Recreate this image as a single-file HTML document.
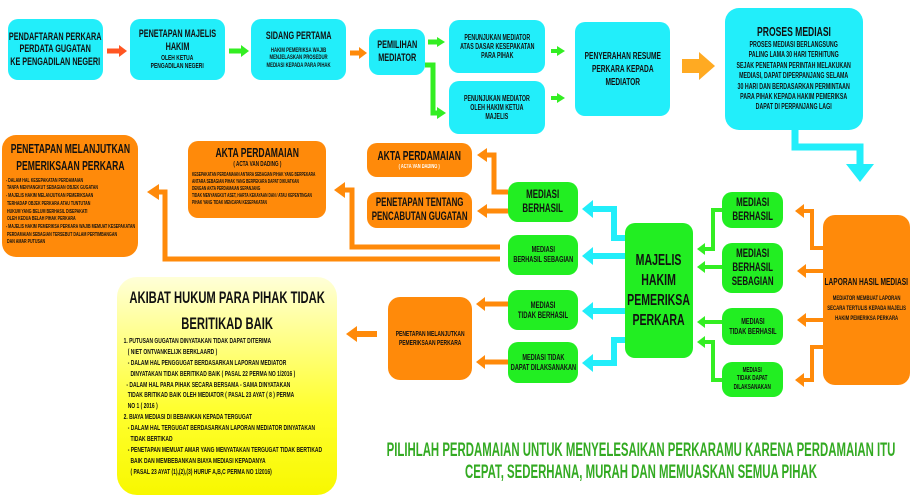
<!DOCTYPE html>
<html><head><meta charset="utf-8"><style>
body{margin:0;width:913px;height:498px;background:#fff;overflow:hidden;position:relative;font-family:"Liberation Sans",sans-serif;font-weight:bold;color:#111}
.b{position:absolute;box-sizing:border-box;border-radius:10px;display:flex;flex-direction:column;justify-content:center;align-items:center;text-align:center;line-height:1.15}
.b>div{white-space:nowrap;transform:scaleX(.66)}
.c{background:#22eefa}.g{background:#22ee22}.o{background:#ff8a0a}
.t{font-size:11px}.s{font-size:7.5px}
.xs{font-size:5.5px;text-align:left;align-self:flex-start;padding-left:6px;line-height:1.4;transform-origin:0 0}
.b>div.xs{transform:scaleX(.66)}
svg{position:absolute;left:0;top:0}
</style></head><body>
<svg width="913" height="498">
<g fill="none" stroke-linejoin="miter">
<polyline points="107,51 120,51" stroke="#ff5522" stroke-width="5"/><polygon points="119,45 127,51 119,57" fill="#ff5522"/>
<polyline points="229,51 242,51" stroke="#33ee22" stroke-width="5"/><polygon points="241,45 249,51 241,57" fill="#33ee22"/>
<polyline points="350,53 360,53" stroke="#ff8a0a" stroke-width="5"/><polygon points="359,47 367,53 359,59" fill="#ff8a0a"/>
<polyline points="428,42 438,42" stroke="#33ee22" stroke-width="5"/><polygon points="437,37 445,42 437,47" fill="#33ee22"/>
<polyline points="425,65 433,65 433,113 438,113" stroke="#33ee22" stroke-width="5"/><polygon points="437,107 446,113 437,119" fill="#33ee22"/>
<polyline points="551,51 558,51" stroke="#33ee22" stroke-width="4"/><polygon points="557,46 565,51 557,56" fill="#33ee22"/>
<polyline points="551,98 558,98" stroke="#33ee22" stroke-width="4"/><polygon points="557,93 565,98 557,103" fill="#33ee22"/>
<polyline points="682,66 700,66" stroke="#ffaa22" stroke-width="14"/><polygon points="699,52 715,66 699,80" fill="#ffaa22"/>
<polyline points="795,129 795,147 860,147 860,166" stroke="#22eefa" stroke-width="7"/><polygon points="846,164 874,164 860,182" fill="#22eefa"/>
<polyline points="823,248 812,248 812,211 803,211" stroke="#ff8a0a" stroke-width="4"/><polygon points="804,204 795,211 804,218" fill="#ff8a0a"/>
<polyline points="823,271 805,271" stroke="#ff8a0a" stroke-width="4"/><polygon points="806,264 797,271 806,278" fill="#ff8a0a"/>
<polyline points="823,320 805,320" stroke="#ff8a0a" stroke-width="4"/><polygon points="806,313 797,320 806,327" fill="#ff8a0a"/>
<polyline points="823,347 812,347 812,380 803,380" stroke="#ff8a0a" stroke-width="4"/><polygon points="804,373 795,380 804,387" fill="#ff8a0a"/>
<polyline points="722,210 713,210 713,249 704,249" stroke="#33ee22" stroke-width="4"/><polygon points="705,243 697,249 705,255" fill="#33ee22"/>
<polyline points="722,267 704,267" stroke="#33ee22" stroke-width="4"/><polygon points="705,261 697,267 705,273" fill="#33ee22"/>
<polyline points="722,322 704,322" stroke="#33ee22" stroke-width="4"/><polygon points="705,316 697,322 705,328" fill="#33ee22"/>
<polyline points="722,380 713,380 713,342 704,342" stroke="#33ee22" stroke-width="4"/><polygon points="705,336 697,342 705,348" fill="#33ee22"/>
<polyline points="625,238 614,238 614,209 592,209" stroke="#22eefa" stroke-width="6"/><polygon points="593,200 582,209 593,218" fill="#22eefa"/>
<polyline points="625,256 592,256" stroke="#22eefa" stroke-width="6"/><polygon points="593,247 582,256 593,265" fill="#22eefa"/>
<polyline points="625,311 592,311" stroke="#22eefa" stroke-width="6"/><polygon points="593,302 582,311 593,320" fill="#22eefa"/>
<polyline points="625,340 614,340 614,363 592,363" stroke="#22eefa" stroke-width="6"/><polygon points="593,354 582,363 593,372" fill="#22eefa"/>
<polyline points="508,192 494,192 494,155 486,155" stroke="#ff8a0a" stroke-width="5"/><polygon points="487,148 477,155 487,162" fill="#ff8a0a"/>
<polyline points="508,211 486,211" stroke="#ff8a0a" stroke-width="5"/><polygon points="487,204 477,211 487,218" fill="#ff8a0a"/>
<polyline points="500,247 352,247 352,190 344,190" stroke="#ff8a0a" stroke-width="5"/><polygon points="345,182 334,190 345,198" fill="#ff8a0a"/>
<polyline points="500,259 165,259 165,192 158,192" stroke="#ff8a0a" stroke-width="5"/><polygon points="159,184 147,192 159,200" fill="#ff8a0a"/>
<polyline points="508,304 484,304" stroke="#ff8a0a" stroke-width="5"/><polygon points="485,297 476,304 485,311" fill="#ff8a0a"/>
<polyline points="508,362 484,362" stroke="#ff8a0a" stroke-width="5"/><polygon points="485,355 476,362 485,369" fill="#ff8a0a"/>
<polyline points="377,334 356,334" stroke="#ff8a0a" stroke-width="6"/><polygon points="357,326 346,334 357,342" fill="#ff8a0a"/>
</g>
</svg>

<div class="b c" style="left:8px;top:19px;width:95px;height:61px"><div class="t">PENDAFTARAN PERKARA<br>PERDATA GUGATAN<br>KE PENGADILAN NEGERI</div></div>
<div class="b c" style="left:130px;top:19px;width:95px;height:61px"><div class="t">PENETAPAN MAJELIS<br>HAKIM</div><div class="s">OLEH KETUA<br>PENGADILAN NEGERI</div></div>
<div class="b c" style="left:251px;top:19px;width:95px;height:61px"><div class="t">SIDANG PERTAMA</div><div class="s" style="font-size:6.5px;margin-top:4px">HAKIM PEMERIKSA WAJIB<br>MENJELASKAN PROSEDUR<br>MEDIASI KEPADA PARA PIHAK</div></div>
<div class="b c" style="left:369px;top:29px;width:56px;height:46px"><div class="t">PEMILIHAN<br>MEDIATOR</div></div>
<div class="b c" style="left:449px;top:20px;width:96px;height:53px"><div class="s" style="font-size:8px">PENUNJUKAN MEDIATOR<br>ATAS DASAR KESEPAKATAN<br>PARA PIHAK</div></div>
<div class="b c" style="left:449px;top:81px;width:96px;height:53px"><div class="s" style="font-size:8px">PENUNJUKAN MEDIATOR<br>OLEH HAKIM KETUA<br>MAJELIS</div></div>
<div class="b c" style="left:575px;top:22px;width:95px;height:94px"><div class="t" style="font-size:10px;line-height:1.3">PENYERAHAN RESUME<br>PERKARA KEPADA<br>MEDIATOR</div></div>
<div class="b c" style="left:725px;top:8px;width:138px;height:122px;border-radius:14px"><div class="t" style="font-size:13px">PROSES MEDIASI</div><div class="s" style="font-size:8px;line-height:1.3">PROSES MEDIASI BERLANGSUNG<br>PALING LAMA 30 HARI TERHITUNG<br>SEJAK PENETAPAN PERINTAH MELAKUKAN<br>MEDIASI, DAPAT DIPERPANJANG SELAMA<br>30 HARI DAN BERDASARKAN PERMINTAAN<br>PARA PIHAK KEPADA HAKIM PEMERIKSA<br>DAPAT DI PERPANJANG LAGI</div></div>

<div class="b o" style="left:2px;top:135px;width:136px;height:122px;justify-content:flex-start;padding-top:6px;border-radius:14px"><div class="t" style="font-size:13px;line-height:1.3">PENETAPAN MELANJUTKAN<br>PEMERIKSAAN PERKARA</div><div class="xs" style="padding-top:3px">- DALAM HAL KESEPAKATAN PERDAMAIAN<br>&nbsp;TANPA MENYANGKUT SEBAGIAN OBJEK GUGATAN<br>- MAJELIS HAKIM MELANJUTKAN PEMERIKSAAN<br>&nbsp;TERHADAP OBJEK PERKARA ATAU TUNTUTAN<br>&nbsp;HUKUM YANG BELUM BERHASIL DISEPAKATI<br>&nbsp;OLEH KEDUA BELAH PIHAK PERKARA<br>- MAJELIS HAKIM PEMERIKSA PERKARA WAJIB MEMUAT KESEPAKATAN<br>&nbsp;PERDAMAIAN SEBAGIAN TERSEBUT DALAM PERTIMBANGAN<br>&nbsp;DAN AMAR PUTUSAN</div></div>
<div class="b o" style="left:188px;top:141px;width:138px;height:77px;justify-content:flex-start;padding-top:5px"><div class="t" style="font-size:13px">AKTA PERDAMAIAN</div><div class="s" style="font-size:7px">( ACTA VAN DADING )</div><div class="xs" style="padding-top:3px;font-size:5px">KESEPAKATAN PERDAMAIAN ANTARA SEBAGIAN PIHAK YANG BERPEKARA<br>ANTARA SEBAGIAN PIHAK YANG BERPEKARA DAPAT DIKUATKAN<br>DENGAN AKTA PERDAMAIAN SEPANJANG<br>TIDAK MENYANGKUT ASET, HARTA KEKAYAAN DAN / ATAU KEPENTINGAN<br>PIHAK YANG TIDAK MENCAPAI KESEPAKATAN</div></div>
<div class="b o" style="left:367px;top:143px;width:105px;height:34px"><div class="t" style="font-size:13px">AKTA PERDAMAIAN</div><div class="s" style="font-size:6px;color:#fff">( ACTA VAN DADING )</div></div>
<div class="b o" style="left:367px;top:192px;width:105px;height:36px"><div class="t" style="font-size:12px">PENETAPAN TENTANG<br>PENCABUTAN GUGATAN</div></div>

<div class="b g" style="left:508px;top:182px;width:70px;height:40px"><div class="t" style="font-size:12px">MEDIASI<br>BERHASIL</div></div>
<div class="b g" style="left:508px;top:235px;width:70px;height:40px"><div class="s" style="font-size:8.5px">MEDIASI<br>BERHASIL SEBAGIAN</div></div>
<div class="b g" style="left:508px;top:290px;width:70px;height:40px"><div class="s" style="font-size:9px">MEDIASI<br>TIDAK BERHASIL</div></div>
<div class="b g" style="left:508px;top:342px;width:70px;height:41px"><div class="s" style="font-size:8.5px">MEDIASI TIDAK<br>DAPAT DILAKSANAKAN</div></div>
<div class="b g" style="left:625px;top:223px;width:68px;height:135px"><div class="t" style="font-size:16px;line-height:1.25">MAJELIS<br>HAKIM<br>PEMERIKSA<br>PERKARA</div></div>
<div class="b g" style="left:722px;top:192px;width:61px;height:36px"><div class="t" style="font-size:12px">MEDIASI<br>BERHASIL</div></div>
<div class="b g" style="left:722px;top:243px;width:61px;height:50px"><div class="t" style="font-size:12px">MEDIASI<br>BERHASIL<br>SEBAGIAN</div></div>
<div class="b g" style="left:722px;top:308px;width:61px;height:37px"><div class="s" style="font-size:8.5px">MEDIASI<br>TIDAK BERHASIL</div></div>
<div class="b g" style="left:722px;top:362px;width:61px;height:35px"><div class="s" style="font-size:7px">MEDIASI<br>TIDAK DAPAT<br>DILAKSANAKAN</div></div>
<div class="b o" style="left:823px;top:215px;width:87px;height:170px;border-radius:12px"><div class="t" style="font-size:10px">LAPORAN HASIL MEDIASI</div><div class="s" style="font-size:6.5px;margin-top:6px;line-height:1.5">MEDIATOR MEMBUAT LAPORAN<br>SECARA TERTULIS KEPADA MAJELIS<br>HAKIM PEMERIKSA PERKARA</div></div>

<div class="b o" style="left:388px;top:297px;width:84px;height:83px;border-radius:12px"><div class="s" style="font-size:7.5px">PENETAPAN MELANJUTKAN<br>PEMERIKSAAN PERKARA</div></div>

<div class="b" style="left:117px;top:277px;width:220px;height:218px;border-radius:20px;background:linear-gradient(#ffffd8,#ffff30 60%,#f8f800);justify-content:flex-start;padding-top:8px"><div style="font-size:17px;line-height:1.5">AKIBAT HUKUM PARA PIHAK TIDAK<br>BERITIKAD BAIK</div>
<div class="xs" style="font-size:7.5px;padding-left:10px;line-height:1.45">1. PUTUSAN GUGATAN DINYATAKAN TIDAK DAPAT DITERIMA<br>&nbsp;&nbsp;&nbsp;( NIET ONTVANKELIJK BERKLAARD )<br>&nbsp;&nbsp;&nbsp;- DALAM HAL PENGGUGAT BERDASARKAN LAPORAN MEDIATOR<br>&nbsp;&nbsp;&nbsp;&nbsp;&nbsp;DINYATAKAN TIDAK BERITIKAD BAIK ( PASAL 22 PERMA NO 1/2016 )<br>&nbsp;&nbsp;- DALAM HAL PARA PIHAK SECARA BERSAMA - SAMA DINYATAKAN<br>&nbsp;&nbsp;&nbsp;TIDAK BRITIKAD BAIK OLEH MEDIATOR ( PASAL 23 AYAT ( 8 ) PERMA<br>&nbsp;&nbsp;&nbsp;NO 1 ( 2016 )<br>2. BIAYA MEDIASI DI BEBANKAN KEPADA TERGUGAT<br>&nbsp;&nbsp;&nbsp;- DALAM HAL TERGUGAT BERDASARKAN LAPORAN MEDIATOR DINYATAKAN<br>&nbsp;&nbsp;&nbsp;&nbsp;&nbsp;TIDAK BERTIKAD<br>&nbsp;&nbsp;&nbsp;- PENETAPAN MEMUAT AMAR YANG MENYATAKAN TERGUGAT TIDAK BERTIKAD<br>&nbsp;&nbsp;&nbsp;&nbsp;&nbsp;BAIK DAN MEMBEBANKAN BIAYA MEDIASI KEPADANYA<br>&nbsp;&nbsp;&nbsp;&nbsp;&nbsp;( PASAL 23 AYAT (1),(2),(3) HURUF A,B,C PERMA NO 1/2016)</div></div>

<div style="position:absolute;left:380px;top:440px;width:522px;display:flex;justify-content:center">
<div style="text-align:center;color:#33aa22;font-size:19px;line-height:22px;white-space:nowrap;transform:scaleX(.6);flex:none">PILIHLAH PERDAMAIAN UNTUK MENYELESAIKAN PERKARAMU KARENA PERDAMAIAN ITU<br>CEPAT, SEDERHANA, MURAH DAN MEMUASKAN SEMUA PIHAK</div></div>
</body></html>
